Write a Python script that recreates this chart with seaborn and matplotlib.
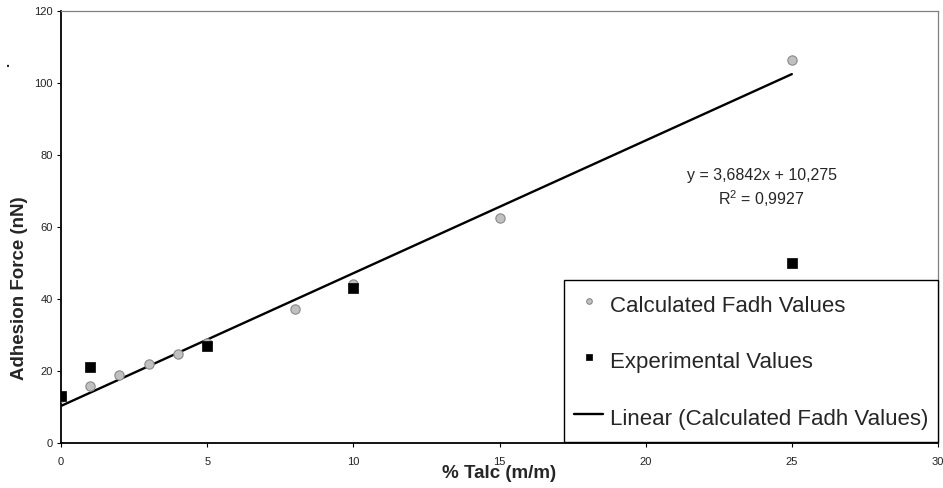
import seaborn as sns
import matplotlib.pyplot as plt
import pandas as pd

# Data
calc_talc = [0, 1, 2, 3, 4, 5, 8, 10, 15, 25]
calc_force = [12.8, 15.8, 18.8, 21.9, 24.8, 27.8, 37.3, 44.1, 62.4, 106.4]
exp_talc = [0, 1, 5, 10, 25]
exp_force = [13.0, 21.1, 27.0, 43.1, 49.9]

calc_label = 'Calculated Fadh Values'
exp_label = 'Experimental Values'
fit_label = 'Linear (Calculated Fadh Values)'
eq_text = 'y = 3,6842x + 10,275'
r2_text = 'R$^2$ = 0,9927'

df_calc = pd.DataFrame({'talc': calc_talc, 'force': calc_force})
df_exp = pd.DataFrame({'talc': exp_talc, 'force': exp_force})

sns.set_style('white')
plt.rcParams['font.family'] = ['Liberation Sans', 'DejaVu Sans']
plt.rcParams['mathtext.default'] = 'regular'

fig = plt.figure(figsize=(9.43, 4.88), dpi=100)
ax = fig.add_axes([0.0647, 0.0922, 0.93, 0.8853])

# Scatter series
sns.scatterplot(x='talc', y='force', data=df_calc, ax=ax, marker='o', s=45,
                color='#c0c0c0', edgecolor='#8a8a8a', linewidth=0.8,
                label=calc_label, zorder=3)
sns.scatterplot(x='talc', y='force', data=df_exp, ax=ax, marker='s', s=50,
                color='black', edgecolor='black', linewidth=0.5,
                label=exp_label, zorder=4)

# Linear trend line
sns.regplot(x='talc', y='force', data=df_calc, ax=ax, scatter=False, ci=None,
            truncate=True, label=fit_label, line_kws={'color': 'black', 'lw': 1.7})

# Trend equation
ax.text(23.97, 74.2, eq_text, ha='center', va='center', fontsize=11.5)
ax.text(23.97, 68.0, r2_text, ha='center', va='center', fontsize=11.5)

# Axes setup
ax.set_xlim(0, 30)
ax.set_ylim(0, 120)
ax.set_xticks(range(0, 31, 5))
ax.set_yticks(range(0, 121, 20))
ax.tick_params(axis='both', which='major', direction='out', length=3, width=0.8,
               labelsize=8, color='black', labelcolor='#222222')
ax.tick_params(axis='x', pad=7)
ax.tick_params(axis='y', pad=3)
ax.xaxis.set_ticks_position('bottom')
ax.yaxis.set_ticks_position('left')

for side in ['left', 'bottom']:
    ax.spines[side].set_color('black')
    ax.spines[side].set_linewidth(1.3)
for side in ['top', 'right']:
    ax.spines[side].set_color('#808080')
    ax.spines[side].set_linewidth(0.9)

ax.set_xlabel('% Talc (m/m)', fontsize=13.5, fontweight='bold', labelpad=0)
ax.set_ylabel('Adhesion Force (nN)', fontsize=13.5, fontweight='bold')
ax.xaxis.set_label_coords(0.5, -0.052)
ax.yaxis.set_label_coords(-0.038, 0.358)

# stray dot in the original
fig.text(8 / 943, 1 - 63 / 488, '.', fontsize=10, fontweight='bold', ha='center', va='center')

# Legend
handles, labels = ax.get_legend_handles_labels()
order = [labels.index(calc_label), labels.index(exp_label), labels.index(fit_label)]
leg = ax.legend([handles[i] for i in order], [labels[i] for i in order],
                loc='lower right', bbox_to_anchor=(1.0, 0.003), borderaxespad=0,
                fontsize=16, frameon=True, fancybox=False, framealpha=1,
                edgecolor='black', labelspacing=1.26, handlelength=1.3,
                handleheight=1.6, handletextpad=0.3, borderpad=0.45,
                markerscale=0.6)
leg.get_frame().set_linewidth(1.0)

plt.savefig('out.png', dpi=100)
